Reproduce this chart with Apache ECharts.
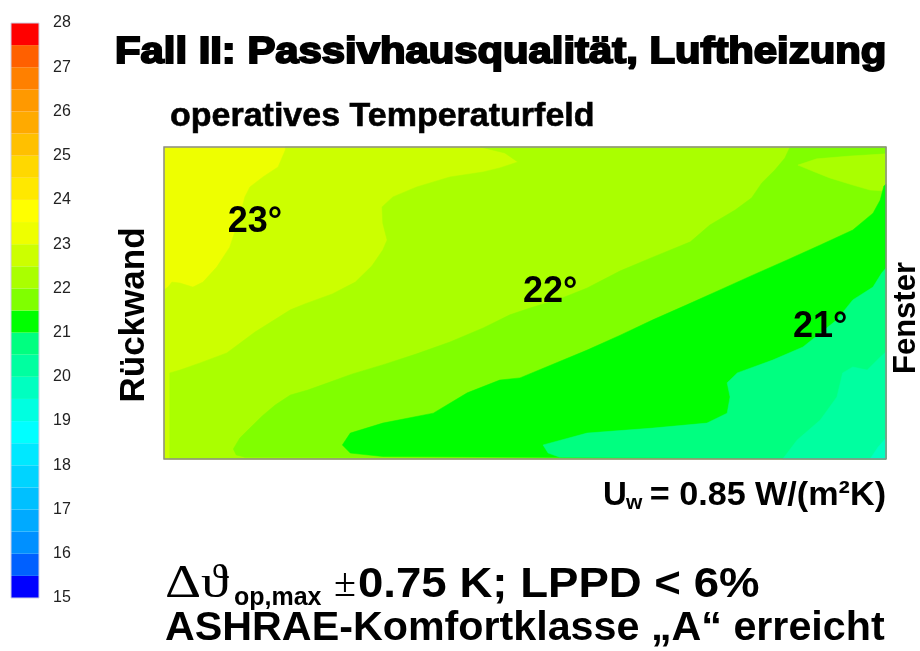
<!DOCTYPE html>
<html>
<head>
<meta charset="utf-8">
<script src="https://cdn.jsdelivr.net/npm/echarts@6/dist/echarts.min.js"></script>
<style>
  html, body { margin: 0; padding: 0; background: #fff; }
  #chart { width: 920px; height: 651px; }
</style>
</head>
<body>
<div id="chart"></div>
<script>
// colour scale, 0.5 K bands (lower bound of each band)
const bandLows = [15, 15.5, 16, 16.5, 17, 17.5, 18, 18.5, 19, 19.5, 20, 20.5, 21,
  21.5, 22, 22.5, 23, 23.5, 24, 24.5, 25, 25.5, 26, 26.5, 27, 27.5];
const bandColors = ['#0000ff', '#0060ff', '#0090ff', '#00aaff', '#00c0ff', '#00d4ff',
  '#00e8ff', '#00ffff', '#00ffe0', '#00ffc0', '#00ffa0', '#00ff80', '#00ff00',
  '#80ff00', '#aaff00', '#ccff00', '#eeff00', '#ffff00', '#ffe800', '#ffd800',
  '#ffc000', '#ffaa00', '#ff9900', '#ff8000', '#ff6000', '#ff0000'];
const tickLabels = ['15', '16', '17', '18', '19', '20', '21', '22', '23', '24', '25', '26', '27', '28'];

// temperature zones of the room section
// x = depth in % (Rückwand 0 -> Fenster 100), y = height in % (floor 0)
const zoneAll = [[0, 0], [100, 0], [100, 100], [0, 100]];
const zone23 = [[16.8, 100], [16.8, 99.0], [15.8, 93.6], [13.7, 90.4], [11.9, 87.2], [11.2, 84.0],
  [10.2, 75.6], [9.1, 67.9], [7.3, 61.5], [5.4, 56.7], [4.0, 55.1], [2.2, 56.4], [1.1, 56.7],
  [0.55, 55.1], [0, 54.2], [0, 0], [100, 0], [100, 100]];
const zone225 = [[43.8, 100], [47.2, 98.1], [49.0, 95.2], [46.5, 93.3], [44.2, 92.0], [39.6, 90.4],
  [35.0, 87.2], [31.7, 84.0], [30.2, 80.8], [30.3, 75.6], [30.9, 70.2], [30.3, 67.0], [28.8, 61.9],
  [26.5, 56.7], [23.3, 52.9], [19.5, 49.7], [17.5, 47.8], [12.6, 40.7], [8.7, 34.0], [5.0, 30.8],
  [2.2, 28.5], [0.8, 27.6], [0.8, 0], [100, 0], [100, 100]];
const zone22 = [[10.0, 1.3], [9.6, 3.2], [10.5, 6.7], [11.9, 9.9], [13.6, 13.8], [15.4, 17.3],
  [17.5, 20.5], [19.9, 22.1], [22.7, 24.4], [26.0, 27.2], [30.6, 30.4], [35.0, 33.7], [39.6, 37.5],
  [44.2, 42.0], [47.9, 46.2], [50.7, 48.4], [54.8, 51.3], [58.6, 54.8], [63.2, 60.3], [67.7, 64.7],
  [72.9, 69.6], [75.6, 75.0], [79.1, 79.8], [81.4, 83.7], [82.8, 88.5], [84.6, 92.6], [86.0, 96.5],
  [86.7, 100], [100, 100], [100, 0], [11.2, 0.6]];
const zone22b = [[87.8, 94.2], [90.4, 96.2], [95.0, 97.1], [100, 97.8], [100, 85.9], [97.8, 86.2],
  [95.4, 87.8], [92.2, 90.1], [89.8, 92.3]];
const zone215 = [[24.7, 4.5], [25.8, 8.3], [30.3, 11.5], [37.3, 14.7], [42.0, 21.2], [46.5, 25.3],
  [49.3, 26.0], [58.6, 34.9], [63.2, 39.7], [67.7, 44.6], [72.4, 49.4], [77.0, 54.2], [81.6, 59.0],
  [86.3, 63.8], [90.9, 68.6], [95.4, 73.4], [98.2, 78.8], [99.2, 83.0], [99.7, 87.5], [100, 88.1],
  [100, 0], [30.3, 0.8], [25.8, 1.9]];
const zone21 = [[52.5, 4.5], [58.6, 8.3], [67.7, 9.9], [75.2, 11.5], [78.0, 14.7], [78.4, 19.9],
  [78.0, 24.4], [79.4, 27.6], [84.3, 31.7], [88.5, 35.9], [93.2, 44.6], [95.4, 51.0], [98.2, 55.1],
  [99.4, 59.6], [100, 61.2], [100, 0], [54.8, 0.6], [53.2, 1.9]];
const zone205 = [[85.7, 0], [87.7, 6.1], [90.9, 12.5], [93.2, 19.9], [94.0, 27.6], [95.4, 29.5],
  [97.4, 28.5], [99.2, 32.7], [100, 34.3], [100, 0]];
const zone20 = [[97.8, 0], [98.9, 3.8], [100, 6.7], [100, 0]];

// painted in this order, later zones on top
const zoneShapes = [zoneAll, zone23, zone225, zone22, zone22b, zone215, zone21, zone205, zone20];
const zoneTemps = [23.25, 22.75, 22.25, 21.75, 22.25, 21.25, 20.75, 20.25, 19.75];

// isotherm labels in the field
const isoLabels = ['23°', '22°', '21°'];
const isoLabelPos = [[12.6, 76.0], [53.5, 53.6], [90.9, 42.3]];

const font = '"Liberation Sans", Arial, sans-serif';
const serif = '"Liberation Serif", "DejaVu Serif", serif';

const chart = echarts.init(document.getElementById('chart'));

function txt(text, x, y, size, extra) {
  return Object.assign({
    type: 'text', x, y,
    style: Object.assign({
      text, fontSize: size, fontWeight: 'bold', fontFamily: font,
      fill: '#000', verticalAlign: 'middle', align: 'left'
    }, extra && extra.style)
  }, extra && extra.el);
}

const option = {
  animation: false,
  backgroundColor: '#fff',
  grid: [
    { left: 164, top: 147, width: 722, height: 312, show: true, z: 5,
      backgroundColor: 'transparent', borderColor: '#8c8c8c', borderWidth: 1.5 },
    { left: 11, top: 23, width: 28, height: 575, show: true, z: 5,
      backgroundColor: 'transparent', borderColor: '#d0d0e4', borderWidth: 1 }
  ],
  xAxis: [
    { gridIndex: 0, type: 'value', min: 0, max: 100, show: false },
    { gridIndex: 1, type: 'value', min: 0, max: 1, show: false }
  ],
  yAxis: [
    { gridIndex: 0, type: 'value', min: 0, max: 100, show: false },
    {
      gridIndex: 1, type: 'value', min: 15, max: 28, interval: 1, position: 'right',
      axisLine: { show: false }, axisTick: { show: false }, splitLine: { show: false },
      axisLabel: {
        margin: 14, color: '#222', fontSize: 16, fontFamily: font,
        padding: [0, 0, 12, 0],
        formatter: v => tickLabels[Math.round(v - 15)]
      }
    }
  ],
  visualMap: {
    type: 'piecewise', show: false, dimension: 0, seriesIndex: [0, 1],
    pieces: bandLows.map((lo, i) => ({ gte: lo, lt: lo + 0.5, color: bandColors[i] }))
  },
  series: [
    {
      // temperature field
      type: 'custom', xAxisIndex: 0, yAxisIndex: 0,
      data: zoneTemps.map((t, i) => [t, i]),
      renderItem: (params, api) => {
        const pts = zoneShapes[api.value(1)].map(p => api.coord(p));
        const c = api.visual('color');
        return { type: 'polygon', shape: { points: pts }, style: { fill: c, stroke: c, lineWidth: 0.5 } };
      }
    },
    {
      // colour bar
      type: 'custom', xAxisIndex: 1, yAxisIndex: 1,
      data: bandLows.map(lo => [lo + 0.25, lo]),
      renderItem: (params, api) => {
        const lo = api.value(1);
        const p0 = api.coord([0, lo]);
        const p1 = api.coord([1, lo + 0.5]);
        return {
          type: 'rect',
          shape: { x: p0[0], y: p1[1], width: p1[0] - p0[0], height: p0[1] - p1[1] },
          style: { fill: api.visual('color') }
        };
      }
    },
    {
      type: 'scatter', xAxisIndex: 0, yAxisIndex: 0, z: 6,
      symbolSize: 0, data: isoLabelPos,
      itemStyle: { opacity: 1 },
      label: {
        show: true, position: 'inside', color: '#000', opacity: 1, fontSize: 36, fontWeight: 'bold',
        fontFamily: font, formatter: p => isoLabels[p.dataIndex]
      }
    }
  ],
  graphic: [
    txt('Fall II: Passivhausqualität, Luftheizung', 115, 53, 37,
      { style: { stroke: '#000', lineWidth: 2 }, el: { scaleX: 1.13 } }),
    txt('operatives Temperaturfeld', 170, 117, 34, { style: { stroke: '#000', lineWidth: 0.6 } }),
    txt('Rückwand', 134, 315, 35, { style: { align: 'center' }, el: { rotation: Math.PI / 2 } }),
    txt('Fenster', 906, 318, 31, { style: { align: 'center' }, el: { rotation: Math.PI / 2 } }),
    txt('U', 603, 496, 33),
    txt('w', 626, 503, 21),
    txt('= 0.85 W/(m²K)', 886, 496, 33, { style: { align: 'right' }, el: { scaleX: 1.035 } }),
    txt('Δϑ', 165, 585, 46, { style: { fontWeight: 'normal', fontFamily: serif }, el: { scaleX: 1.22 } }),
    txt('op,max', 234, 598, 25),
    txt('±', 334, 585, 40, { style: { fontWeight: 'normal', fontFamily: serif } }),
    txt('0.75 K; LPPD < 6%', 358, 585, 43, { el: { scaleX: 1.06 } }),
    txt('ASHRAE-Komfortklasse „A“ erreicht', 165, 629, 41, { el: { scaleX: 1.006 } })
  ]
};

chart.setOption(option);
</script>
</body>
</html>
